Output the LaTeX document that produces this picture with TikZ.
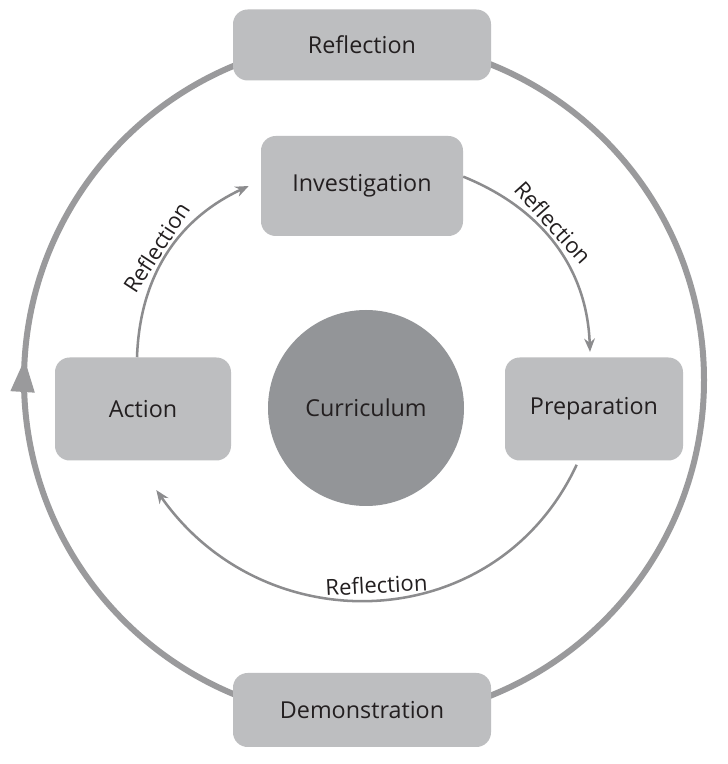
\documentclass[tikz,border=0pt]{standalone}
\usepackage{fontspec}
\setmainfont{Open Sans}
\usetikzlibrary{arrows.meta}
\usetikzlibrary{decorations.markings}
\definecolor{boxgray}{RGB}{189, 190, 192}
\definecolor{coregray}{RGB}{147, 149, 152}
\definecolor{ringgray}{RGB}{154, 154, 156}
\definecolor{arcgray}{RGB}{140, 140, 142}
\definecolor{txtgray}{RGB}{35, 31, 32}
\tikzset{box/.style = {fill = boxgray, rounded corners = 11pt, text = txtgray, inner sep = 0, font = \fontsize{17.5}{20}\selectfont}}
\tikzset{core/.style = {fill = coregray, circle, text = txtgray, inner sep = 0, font = \fontsize{17.5}{20}\selectfont}}
\tikzset{turn/.style = {arcgray, line width = 1.9pt, -{Stealth[length = 10pt, width = 8pt]}}}
\tikzset{lbl/.style = {text = txtgray, sloped, inner sep = 2pt, font = \fontsize{16.5}{19}\selectfont}}
\tikzset{ring/.style = {ringgray, line width = 4.5pt, postaction = {decorate},
    decoration = {markings, mark = at position 0.49 with {\arrowreversed[ringgray]{Triangle[length = 25pt, width = 17pt]}}}}}

\begin{document}
\begin{tikzpicture}[x = 0.75pt, y = 0.75pt]
      \fill [white] (0, 0) rectangle (728, 764);
      \useasboundingbox (0, 0) rectangle (728, 764);

      \coordinate (ctr) at (364, 384);
      \draw [ring] (ctr) circle (340);

      \node [box, minimum width = 193.5pt, minimum height = 53.25pt] (top) at (362, 719) {Reflection};
      \node [box, minimum width = 193.5pt, minimum height = 55.5pt] (dem) at (362, 54) {Demonstration};
      \node [box, minimum width = 151.5pt, minimum height = 75pt] (inv) at (362, 578) {Investigation};
      \node [box, minimum width = 132pt, minimum height = 77.25pt] (act) at (143, 355) {Action};
      \node [box, minimum width = 133.5pt, minimum height = 77.25pt] (prep) at (594, 355) {Preparation};
      \node [core, minimum size = 147pt] (cur) at (366, 356) {Curriculum};

      % inner cycle
      \draw [turn] ([xshift = -4.5pt] act.north) to [out = 88, in = 205]
        node [lbl, above, pos = 0.5] {Reflection} ([xshift = -9pt] inv.west);
      \draw [turn] ([yshift = 7pt] inv.east) to [out = -22, in = 92]
        node [lbl, above, pos = 0.42] {Reflection} ([xshift = -3pt, yshift = 4pt] prep.north);
      \draw [turn] ([xshift = -13pt, yshift = -3pt] prep.south) to [out = -115, in = -55, looseness = 1.15]
        node [lbl, above, inner sep = 4pt, pos = 0.5] {Reflection} ([xshift = 10pt, yshift = -22pt] act.south);
    \end{tikzpicture}
\end{document}
